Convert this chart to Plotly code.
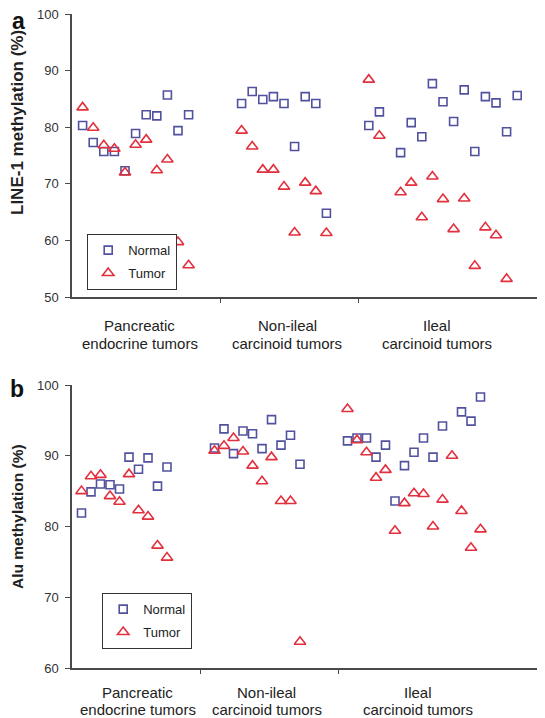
import plotly.graph_objects as go

# ---------------- data ----------------
categories = [("Pancreatic", "endocrine tumors"), ("Non-ileal", "carcinoid tumors"), ("Ileal", "carcinoid tumors")]

# Panel a: LINE-1 methylation (%)  (None = sample not shown)
a_pet_normal = [80.3, 77.3, 75.7, 75.7, 72.3, 78.9, 82.2, 82.0, 85.7, 79.4, 82.2]
a_pet_tumor = [83.5, 79.9, 76.8, 76.2, 72.0, 76.9, 77.8, 72.4, 74.3, 59.7, 55.6]
a_nil_normal = [84.2, 86.3, 84.9, 85.4, 84.2, 76.6, 85.4, 84.2, 64.8]
a_nil_tumor = [79.4, 76.6, 72.5, 72.5, 69.5, 61.4, 70.2, 68.7, 61.3]
a_il_normal = [80.3, 82.7, None, 75.5, 80.8, 78.3, 87.7, 84.5, 81.0, 86.6, 75.7, 85.4, 84.3, 79.2, 85.6]
a_il_tumor = [88.4, 78.5, None, 68.5, 70.2, 64.1, 71.3, 67.3, 62.0, 67.4, 55.5, 62.3, 60.9, 53.2, None]

# Panel b: Alu methylation (%)
b_pet_normal = [81.9, 84.9, 86.0, 85.9, 85.3, 89.8, 88.1, 89.7, 85.7, 88.4]
b_pet_tumor = [85.0, 87.1, 87.3, 84.3, 83.5, 87.4, 82.3, 81.4, 77.3, 75.6]
b_nil_normal = [91.1, 93.8, 90.3, 93.5, 93.1, 91.0, 95.1, 91.5, 92.9, 88.8]
b_nil_tumor = [90.7, 91.4, 92.5, 90.6, 88.6, 86.4, 89.8, 83.6, 83.6, 63.7]
b_il_normal = [92.1, 92.5, 92.5, 89.8, 91.5, 83.6, 88.6, 90.5, 92.5, 89.8, 94.2, None, 96.2, 94.9, 98.3]
b_il_tumor = [96.6, 92.2, 90.5, 86.9, 88.0, 79.4, 83.3, 84.7, 84.6, 80.0, 83.8, 90.0, 82.2, 77.0, 79.6]

a_yticks = [50, 60, 70, 80, 90, 100]
b_yticks = [60, 70, 80, 90, 100]

# ---------------- layout helpers ----------------
# the page body has an 8px margin, so the figure is drawn 8px in from the window edge
OFF = 8
W, H = 545 - OFF, 718 - OFF
ML, MT, MB = 72 - OFF, 14 - OFF, 718 - 668
MR = 0
PW = W - ML - MR
PH = H - MT - MB

a_starts = [1, 16, 28]
b_starts = [1, 15, 29]
a_dividers = [14, 27]
b_dividers = [13.5, 28]
a_label_x = [6.4, 20.3, 34.4]
b_label_x = [6.9, 20.5, 36.4]

NAVY = "#51519e"
RED = "#e2303e"
AXC = "#4a4a4a"
FONT = "Liberation Sans, Arial, sans-serif"


def build(groups_n, groups_t, starts):
    xn, yn, xt, yt = [], [], [], []
    for vals, s in zip(groups_n, starts):
        for i, v in enumerate(vals):
            if v is not None:
                xn.append(s + i); yn.append(v)
    for vals, s in zip(groups_t, starts):
        for i, v in enumerate(vals):
            if v is not None:
                xt.append(s + i); yt.append(v)
    return xn, yn, xt, yt


def py(px):  # reference-window pixel row -> paper y
    return 1 - (px - 14) / PH


def pxx(px):  # reference-window pixel column -> paper x
    return (px - 72) / PW


fig = go.Figure()

panels = [
    ("x", "y", "legend", [a_pet_normal, a_nil_normal, a_il_normal], [a_pet_tumor, a_nil_tumor, a_il_tumor], a_starts),
    ("x2", "y2", "legend2", [b_pet_normal, b_nil_normal, b_il_normal], [b_pet_tumor, b_nil_tumor, b_il_tumor], b_starts),
]
for xa, ya, lg, gn, gt, st in panels:
    xn, yn, xt, yt = build(gn, gt, st)
    fig.add_trace(go.Scatter(
        x=xn, y=yn, mode="markers", name="Normal", xaxis=xa, yaxis=ya, legend=lg,
        legendgroup=lg + "n", cliponaxis=False,
        marker=dict(symbol="square-open", size=8, color=NAVY, line=dict(width=1.6, color=NAVY)),
    ))
    fig.add_trace(go.Scatter(
        x=xt, y=yt, mode="markers", name="Tumor", xaxis=xa, yaxis=ya, legend=lg,
        legendgroup=lg + "t", cliponaxis=False,
        marker=dict(symbol="triangle-up-open", size=10, color=RED, line=dict(width=1.6, color=RED)),
    ))

a_top, a_bot = 14, 297
b_top, b_bot = 385, 668

yaxis_common = dict(
    showline=True, linecolor=AXC, linewidth=1.5, ticks="outside", ticklen=5, tickwidth=1.2,
    tickcolor=AXC, showgrid=False, zeroline=False, tickfont=dict(size=13, color="#333", family=FONT),
    ticklabelstandoff=4, ticklabeloverflow="allow",
)
xaxis_common = dict(
    showline=True, linecolor=AXC, linewidth=1.5, ticks="outside", ticklen=4, tickwidth=1.2,
    tickcolor=AXC, showgrid=False, zeroline=False, showticklabels=False,
)

fig.update_layout(
    width=W, height=H, margin=dict(l=ML, r=MR, t=MT, b=MB),
    paper_bgcolor="white", plot_bgcolor="white",
    font=dict(family=FONT, color="#222"),
    xaxis=dict(xaxis_common, domain=[0, 1], range=[0, PW / 10.6], tickvals=a_dividers, anchor="y"),
    yaxis=dict(yaxis_common, domain=[py(a_bot), py(a_top)], range=[50, 100], tickvals=a_yticks, anchor="x"),
    xaxis2=dict(xaxis_common, domain=[0, 1], range=[0, PW / 9.5], tickvals=b_dividers, anchor="y2"),
    yaxis2=dict(yaxis_common, domain=[py(b_bot), py(b_top)], range=[60, 100], tickvals=b_yticks, anchor="x2"),
    legend=dict(x=pxx(87), y=py(234), xanchor="left", yanchor="top",
                bordercolor="#333", borderwidth=1.2, bgcolor="white",
                font=dict(size=13, family=FONT, color="#222"), tracegroupgap=3, itemwidth=30),
    legend2=dict(x=pxx(102), y=py(593), xanchor="left", yanchor="top",
                 bordercolor="#333", borderwidth=1.2, bgcolor="white",
                 font=dict(size=13, family=FONT, color="#222"), tracegroupgap=3, itemwidth=30),
    showlegend=True,
)

# y-axis titles
fig.add_annotation(x=pxx(18), y=py(123), xref="paper", yref="paper", text="<b>LINE-1 methylation (%)</b>",
                   textangle=-90, showarrow=False, xanchor="center", yanchor="middle", borderpad=0,
                   font=dict(size=17, family=FONT, color="#222"))
fig.add_annotation(x=pxx(17), y=py(517), xref="paper", yref="paper", text="<b>Alu methylation (%)</b>",
                   textangle=-90, showarrow=False, xanchor="center", yanchor="middle", borderpad=0,
                   font=dict(size=15.5, family=FONT, color="#222"))

# category labels (two lines each)
for (l1, l2), xv in zip(categories, a_label_x):
    for txt, ypx in ((l1, 325), (l2, 343)):
        fig.add_annotation(x=xv, xref="x", y=py(ypx), yref="paper", text=txt, showarrow=False,
                           xanchor="center", yanchor="middle", font=dict(size=15, family=FONT, color="#222"))
for (l1, l2), xv in zip(categories, b_label_x):
    for txt, ypx in ((l1, 692), (l2, 709)):
        fig.add_annotation(x=xv, xref="x2", y=py(ypx), yref="paper", text=txt, showarrow=False,
                           xanchor="center", yanchor="middle", borderpad=0,
                           font=dict(size=15, family=FONT, color="#222"))

# panel letters
fig.add_annotation(x=pxx(18), y=py(21), xref="paper", yref="paper", text="<b>a</b>", showarrow=False,
                   xanchor="center", yanchor="middle", borderpad=0,
                   font=dict(size=23, family=FONT, color="#111"))
fig.add_annotation(x=pxx(17), y=py(389), xref="paper", yref="paper", text="<b>b</b>", showarrow=False,
                   xanchor="center", yanchor="middle", borderpad=0,
                   font=dict(size=23, family=FONT, color="#111"))

fig.write_html("out.html")
